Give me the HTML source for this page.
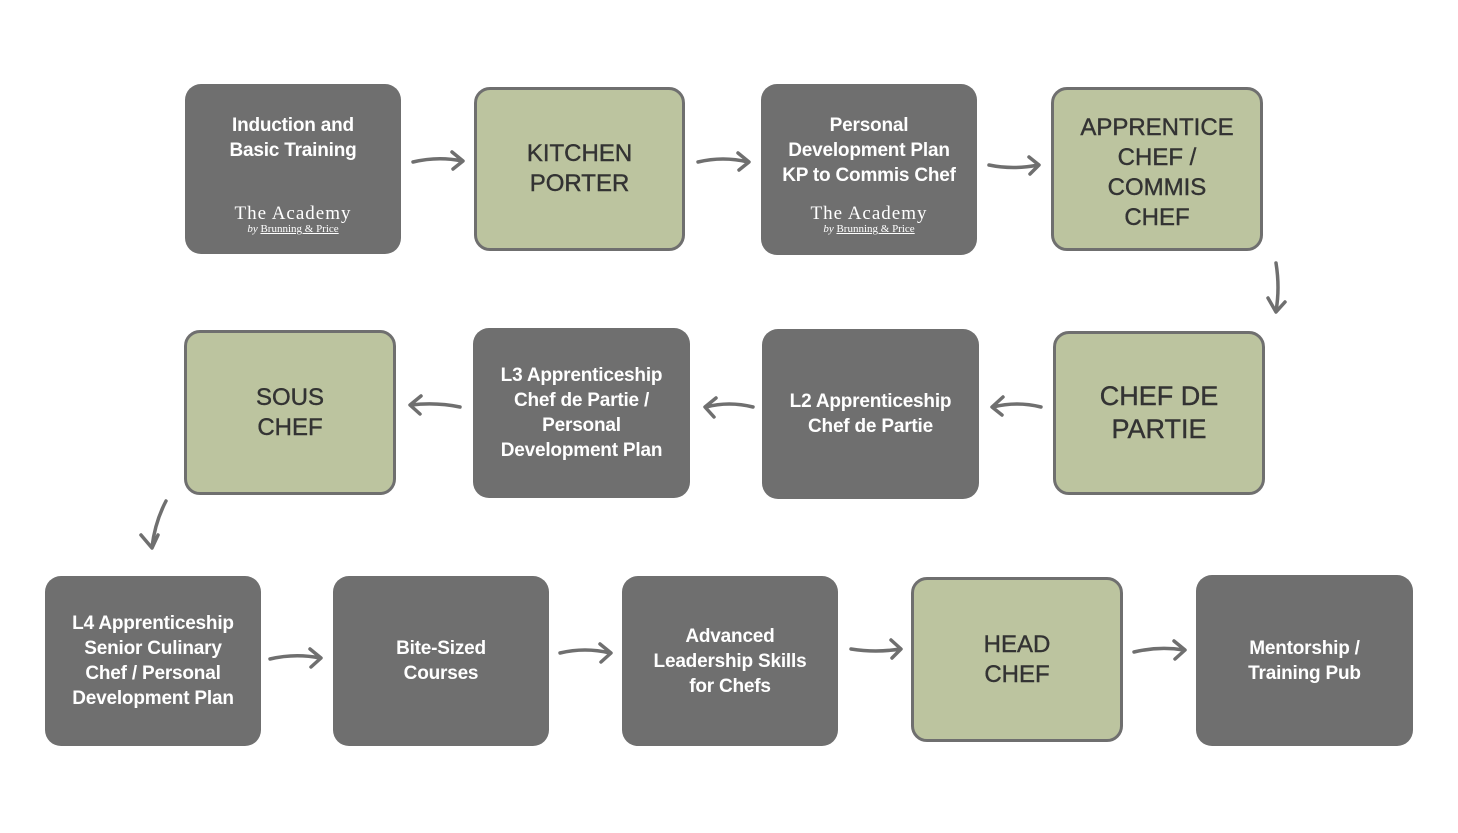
<!DOCTYPE html>
<html><head><style>
body{margin:0;width:1458px;height:833px;background:#fff;position:relative;overflow:hidden;font-family:"Liberation Sans",Arial,sans-serif}
.b{position:absolute;box-sizing:border-box;border-radius:16px;display:flex;flex-direction:column;align-items:center;justify-content:center;text-align:center}
.d{background:#6f6f6f;color:#fff;font-size:19px;line-height:25px;font-weight:bold;letter-spacing:-0.2px}
.g{background:#bcc49f;border:3px solid #6f6f6f;color:#333;font-size:24px;line-height:30px;-webkit-text-stroke:0.4px #333}
.ac{font-family:"Liberation Serif",serif;font-weight:normal;color:#fff;position:absolute;left:0;right:0;text-align:center;letter-spacing:0}
.ac1{font-size:19px;letter-spacing:1px}
.ac2{font-size:11px;line-height:12px}
</style></head><body>
<div class="b d" style="left:185px;top:84px;width:216px;height:170px;justify-content:flex-start;padding-top:29px">Induction and<br>Basic Training
<div class="ac ac1" style="top:117px">The Academy</div><div class="ac ac2" style="top:139px"><i>by</i> <u>Brunning &amp; Price</u></div></div>
<div class="b g" style="left:474px;top:87px;width:211px;height:164px">KITCHEN<br>PORTER</div>
<div class="b d" style="left:761px;top:84px;width:216px;height:171px;justify-content:flex-start;padding-top:29px">Personal<br>Development Plan<br>KP to Commis Chef
<div class="ac ac1" style="top:117px">The Academy</div><div class="ac ac2" style="top:139px"><i>by</i> <u>Brunning &amp; Price</u></div></div>
<div class="b g" style="left:1051px;top:87px;width:212px;height:164px;padding-top:8px">APPRENTICE<br>CHEF /<br>COMMIS<br>CHEF</div>

<div class="b g" style="left:184px;top:330px;width:212px;height:165px">SOUS<br>CHEF</div>
<div class="b d" style="left:473px;top:328px;width:217px;height:170px">L3 Apprenticeship<br>Chef de Partie /<br>Personal<br>Development Plan</div>
<div class="b d" style="left:762px;top:329px;width:217px;height:170px">L2 Apprenticeship<br>Chef de Partie</div>
<div class="b g" style="left:1053px;top:331px;width:212px;height:164px;font-size:27px;line-height:33px">CHEF DE<br>PARTIE</div>

<div class="b d" style="left:45px;top:576px;width:216px;height:170px">L4 Apprenticeship<br>Senior Culinary<br>Chef / Personal<br>Development Plan</div>
<div class="b d" style="left:333px;top:576px;width:216px;height:170px">Bite-Sized<br>Courses</div>
<div class="b d" style="left:622px;top:576px;width:216px;height:170px">Advanced<br>Leadership Skills<br>for Chefs</div>
<div class="b g" style="left:911px;top:577px;width:212px;height:165px">HEAD<br>CHEF</div>
<div class="b d" style="left:1196px;top:575px;width:217px;height:171px">Mentorship /<br>Training Pub</div>

<svg width="1458" height="833" style="position:absolute;left:0;top:0" fill="none" stroke="#6f6f6f" stroke-width="3.5" stroke-linecap="round" stroke-linejoin="round">
<path d="M413 162 Q438 156 462 161 M452 152 L463 161 L453 169"/>
<path d="M698 162 Q723 156 748 162 M738 153 L749 162 L739 170"/>
<path d="M989 165 Q1013 170 1038 165 M1029 157 L1039 165 L1030 174"/>
<path d="M1276 263 Q1280 288 1276 311 M1268 298 L1276 312 L1285 302"/>
<path d="M1041 407 Q1017 401 993 407 M1003 397 L992 407 L1002 415"/>
<path d="M753 407 Q729 401 706 407 M716 398 L705 407 L714 417"/>
<path d="M460 407 Q436 402 411 405 M421 396 L410 405 L420 414"/>
<path d="M166 501 Q155 522 152 547 M141 535 L152 548 L158 535"/>
<path d="M270 659 Q295 653 320 658 M310 649 L321 658 L311 667"/>
<path d="M560 653 Q585 647 610 653 M600 644 L611 653 L601 662"/>
<path d="M851 649 Q876 653 900 649 M891 640 L901 649 L892 658"/>
<path d="M1134 652 Q1159 646 1184 650 M1174 641 L1185 650 L1175 659"/>
</svg>
</body></html>
